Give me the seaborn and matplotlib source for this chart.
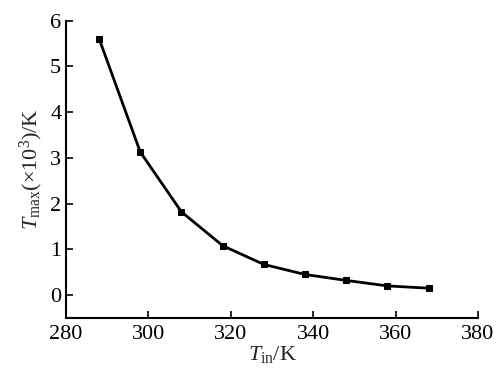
import matplotlib
matplotlib.use('Agg')
import matplotlib.pyplot as plt
import pandas as pd
import seaborn as sns

# Inlet temperature (K) and T_max (x10^3 K)
t_in = [288, 298, 308, 318, 328, 338, 348, 358, 368]
t_max = [5.61, 3.13, 1.82, 1.08, 0.67, 0.45, 0.32, 0.20, 0.15]
x_ticks = [280, 300, 320, 340, 360, 380]
y_ticks = [0, 1, 2, 3, 4, 5, 6]

df = pd.DataFrame({'t_in': t_in, 't_max': t_max})

sns.set_style('ticks')
plt.rcParams['font.family'] = ['Liberation Serif', 'DejaVu Serif']
plt.rcParams['mathtext.fontset'] = 'custom'
plt.rcParams['mathtext.it'] = 'Liberation Serif:italic'
plt.rcParams['mathtext.rm'] = 'Liberation Serif'

fig = plt.figure(figsize=(5.01, 3.78), dpi=100)
ax = fig.add_axes([0.132, 0.159, 0.822, 0.786])

sns.lineplot(data=df, x='t_in', y='t_max', ax=ax, color='black', linewidth=2,
             marker='s', markersize=4.5, markeredgecolor='black')

ax.set_xlim(280, 380)
ax.set_ylim(-0.5, 6)
ax.set_xticks(x_ticks)
ax.set_yticks(y_ticks)
ax.tick_params(direction='in', length=5, width=1.2, labelsize=16, colors='black')
ax.tick_params(axis='x', pad=5)
for side in ('top', 'right'):
    ax.spines[side].set_visible(False)
for side in ('left', 'bottom'):
    ax.spines[side].set_linewidth(1.5)
    ax.spines[side].set_color('black')

ax.set_xlabel(r'$T_{\rm in}$/K', fontsize=16, labelpad=0)
ax.set_ylabel(r'$T_{\rm max}$(×10$^3$)/K', fontsize=16, labelpad=4)

fig.savefig('out.png', dpi=100)
